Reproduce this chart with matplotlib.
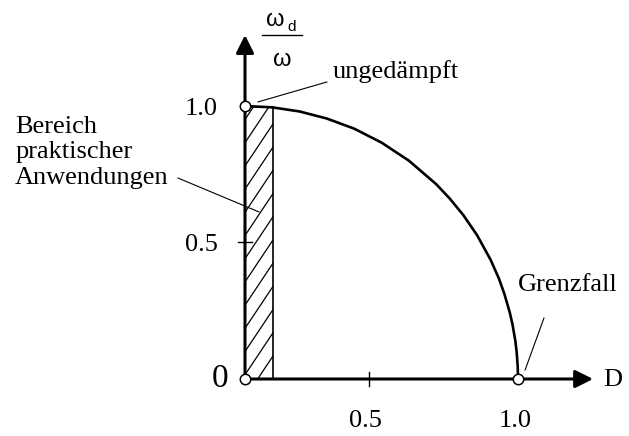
import numpy as np
import matplotlib
matplotlib.use("Agg")
import matplotlib.pyplot as plt
from matplotlib.patches import Rectangle

# Frequency ratio omega_d/omega against damping D
D = [0.0, 0.1, 0.2, 0.3, 0.4, 0.5, 0.6, 0.7, 0.75, 0.8, 0.85, 0.9,
     0.93, 0.95, 0.97, 0.98, 0.99, 0.995, 0.999, 1.0]
ratio = [1.0, 0.995, 0.980, 0.954, 0.917, 0.866, 0.800, 0.714, 0.661, 0.600,
         0.527, 0.436, 0.368, 0.312, 0.243, 0.199, 0.141, 0.100, 0.045, 0.0]

practical_D = 0.103          # right edge of the hatched band
marked_D = [0.0, 0.0, 1.0]   # open circles
marked_r = [1.0, 0.0, 0.0]

xtick_pos = [0.455]
xlabel_pos = [0.44, 0.99]
xlabel_txt = ['0.5', '1.0']
ytick_pos = [0.5]
ylabel_pos = [1.0, 0.5]
ylabel_txt = ['1.0', '0.5']

serif = 'Liberation Serif'
sans = 'Liberation Sans'
fs = 19

fig = plt.figure(figsize=(6.29, 4.36), dpi=100)
ax = fig.add_axes([0, 0, 1, 1])
ax.set_xlim(-245 / 273, (629 - 245) / 273)
ax.set_ylim(-(436 - 379) / 273, 379 / 273)
ax.axis('off')

# axes with arrow heads
arrow = dict(arrowstyle='-|>', lw=2.2, color='k', mutation_scale=27,
             shrinkA=0, shrinkB=0)
ax.annotate('', xy=(1.275, 0), xytext=(0, 0), arrowprops=arrow)
ax.annotate('', xy=(0, 1.26), xytext=(0, 0), arrowprops=arrow)

# tick marks
for x in xtick_pos:
    ax.plot([x, x], [-0.026, 0.026], color='k', lw=1.0)
for y in ytick_pos:
    ax.plot([-0.026, 0.026], [y, y], color='k', lw=1.0)

# hatched band of practical damping values (steep hatch lines)
top = np.interp(practical_D, D, ratio)
band = Rectangle((0, 0), practical_D, top, fill=False, edgecolor='k', lw=1.2)
ax.add_patch(band)
slope, step = 1.5, 0.085
for y0 in np.arange(-slope * practical_D, top + step, step):
    ln, = ax.plot([0, practical_D], [y0, y0 + slope * practical_D],
                  color='k', lw=0.9)
    ln.set_clip_path(band)

# curve
ax.plot(D, ratio, color='k', lw=1.9, solid_capstyle='butt')
ax.plot(marked_D, marked_r, 'o', ms=7.5, mfc='white', mec='k', mew=1.1,
        zorder=5, clip_on=False)

# tick labels
for x, t in zip(xlabel_pos, xlabel_txt):
    ax.text(x, -0.154, t, ha='center', va='center', fontsize=fs, family=serif)
for y, t in zip(ylabel_pos, ylabel_txt):
    ax.text(-0.10, y - 0.01, t, ha='right', va='center', fontsize=fs, family=serif)
ax.text(-0.092, 0.0, '0', ha='center', va='center', fontsize=24, family=serif)
ax.text(1.311, -0.005, 'D', ha='left', va='center', fontsize=fs, family=serif)

# y label as fraction
ax.text(0.110, 1.315, '\u03c9', ha='center', va='center', fontsize=17, family=sans)
ax.text(0.172, 1.289, 'd', ha='center', va='center', fontsize=11, family=sans)
ax.plot([0.062, 0.209], [1.26, 1.26], color='k', lw=1.0)
ax.text(0.136, 1.168, '\u03c9', ha='center', va='center', fontsize=17, family=sans)

# annotations
ax.text(0.322, 1.125, 'ungedämpft', ha='left', va='center', fontsize=fs, family=serif)
ax.plot([0.048, 0.300], [1.015, 1.088], color='k', lw=0.8)
ax.text(-0.842, 0.83, 'Bereich\npraktischer\nAnwendungen', ha='left', va='center',
        fontsize=fs, family=serif, linespacing=1.22)
ax.plot([-0.245, 0.051], [0.736, 0.612], color='k', lw=0.8)
ax.text(1.0, 0.344, 'Grenzfall', ha='left', va='center', fontsize=fs, family=serif)
ax.plot([1.095, 1.026], [0.223, 0.033], color='k', lw=0.8)

fig.savefig('out.png', dpi=100)
